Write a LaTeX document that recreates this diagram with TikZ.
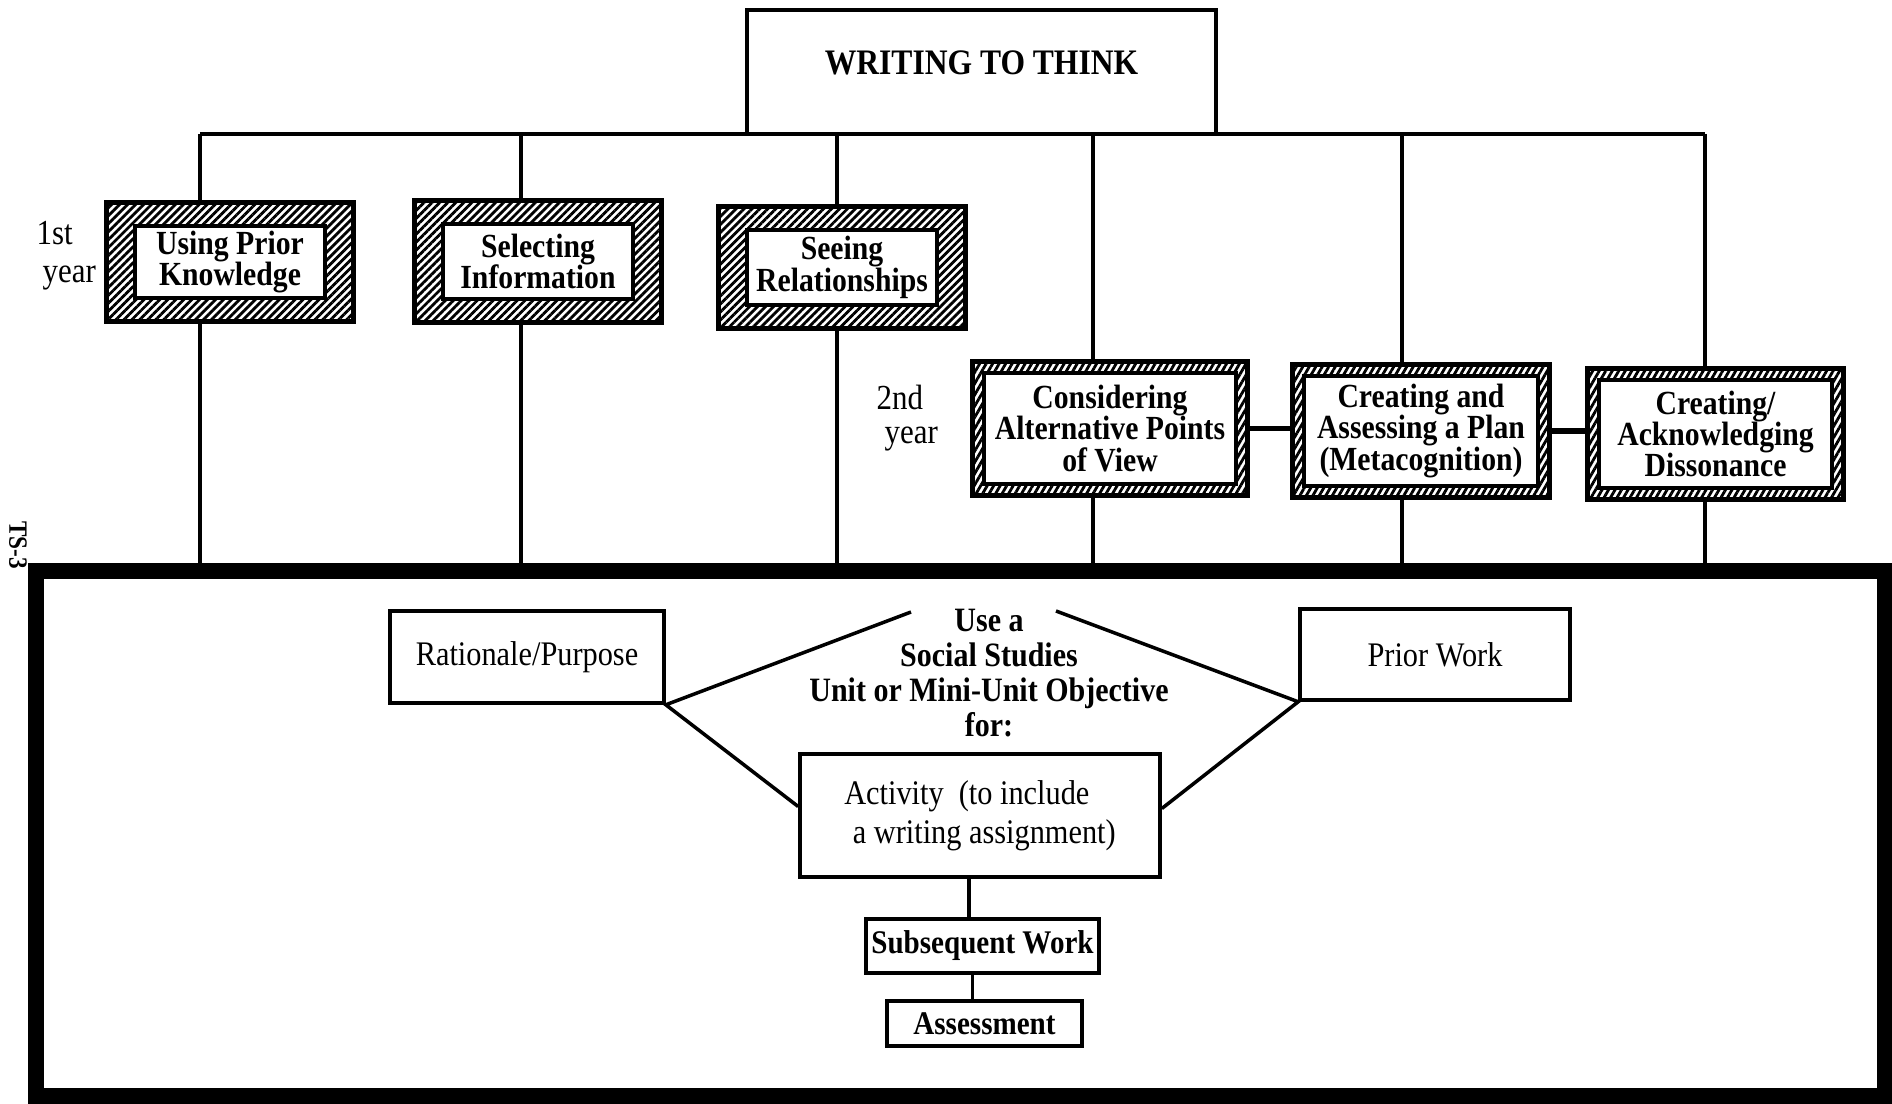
\documentclass[tikz,border=0pt]{standalone}
\usepackage{fontspec}
\setmainfont[FakeStretch=0.88]{Liberation Serif}
\usetikzlibrary{patterns.meta,fit,backgrounds}

\tikzset{
  conn/.style={line width=1pt},
  thickconn/.style={line width=1.5pt},
  stage/.style={draw, line width=1pt, fill=white, align=center, inner sep=0pt,
    font=\bfseries\fontsize{9.6}{8.9}\selectfont},
  hatchA/.style={draw, line width=1.4pt, inner xsep=0.27cm, inner ysep=0.22cm,
    pattern={Lines[angle=45,distance=1.6pt,line width=0.8pt]}},
  hatchB/.style={draw, line width=1.4pt, inner sep=0.1cm,
    pattern={Lines[angle=60,distance=1.6pt,line width=0.8pt]}},
  plainbox/.style={draw, line width=1pt, inner sep=0pt, font=\fontsize{9.8}{11}\selectfont},
  boldbox/.style={plainbox, font=\bfseries\fontsize{9.4}{11}\selectfont},
  yearlbl/.style={anchor=base west, inner sep=0pt, font=\fontsize{10}{12}\selectfont},
}

\begin{document}
\begin{tikzpicture}[x=0.01cm, y=-0.01cm]
  \useasboundingbox (0,0) rectangle (1892,1104);

  \node[draw, line width=1pt, anchor=base, minimum width=4.69cm, inner xsep=0pt, inner ysep=0pt,
    text height=0.65cm, text depth=0.59cm, font=\bfseries\fontsize{10.2}{12}\selectfont]
    (wtt) at (981.5,75) {WRITING TO THINK};

  \node[stage, minimum width=1.90cm, minimum height=0.72cm] (upk) at (230,262) {Using Prior\\Knowledge};
  \node[stage, minimum width=1.90cm, minimum height=0.75cm] (sel) at (538,261.5) {Selecting\\Information};
  \node[stage, minimum width=1.90cm, minimum height=0.75cm] (rel) at (842,267.5) {Seeing\\Relationships};
  \node[stage, minimum width=2.52cm, minimum height=1.11cm] (alt) at (1110,428.5) {Considering\\Alternative Points\\of View};
  \node[stage, minimum width=2.34cm, minimum height=1.10cm] (plan) at (1421,431) {Creating and\\Assessing a Plan\\(Metacognition)};
  \node[stage, minimum width=2.33cm, minimum height=1.08cm] (dis) at (1715.5,434) {Creating/\\Acknowledging\\Dissonance};

  \begin{scope}[on background layer]
    \foreach \n in {upk,sel,rel}
      \node[hatchA, fit=(\n)] (f\n) {};
    \foreach \n in {alt,plan,dis}
      \node[hatchB, fit=(\n)] (f\n) {};
  \end{scope}

  \node[yearlbl] (y1a) at (36,245) {1st};
  \node[yearlbl] (y1b) at (42,283) {year};
  \node[yearlbl] (y2a) at (876,410) {2nd};
  \node[yearlbl] (y2b) at (884,444) {year};
  \node[rotate=-90, inner sep=0pt, font=\bfseries\fontsize{7.5}{9}\selectfont] (ts) at (18,545) {TS-3};

  \node[draw, line width=0.16cm, inner sep=0pt, minimum width=18.47cm, minimum height=5.25cm]
    (unit) at (960.5,833.5) {};

  \coordinate (b1) at (200,134);
  \coordinate (b2) at (521,134);
  \coordinate (b3) at (837,134);
  \coordinate (b4) at (1093,134);
  \coordinate (b5) at (1402,134);
  \coordinate (b6) at (1705,134);
  \draw[conn] (b1) -- (b6);
  \foreach \b/\n in {b1/upk,b2/sel,b3/rel,b4/alt,b5/plan,b6/dis}
    \draw[conn] (\b) -- (\b |- f\n.north) (\b |- f\n.south) -- (\b |- unit.north);
  \draw[thickconn] (falt.east) -- (falt.east -| fplan.west);
  \draw[thickconn] (fplan.east) -- (fplan.east -| fdis.west);

  \node[plainbox, minimum width=2.74cm, minimum height=0.92cm] (rat) at (527,657) {Rationale/Purpose};
  \node[plainbox, minimum width=2.70cm, minimum height=0.91cm] (prior) at (1435,654.5) {Prior Work};
  \node[align=center, inner sep=0pt, font=\bfseries\fontsize{9.7}{9.9}\selectfont]
    (obj) at (989,673) {Use a\\Social Studies\\Unit or Mini-Unit Objective\\for:};
  \node[plainbox, align=left, minimum width=3.60cm, minimum height=1.23cm]
    (act) at (980,815.5) {Activity~~(to include\\\hspace{0.25em}a writing assignment)};
  \node[boldbox, minimum width=2.33cm, minimum height=0.54cm] (sub) at (982.5,946) {Subsequent Work};
  \node[boldbox, minimum width=1.95cm, minimum height=0.45cm] (ass) at (984.5,1023.5) {Assessment};

  \coordinate (objL) at (911,612);
  \coordinate (objR) at (1056,611);
  \coordinate (actdrop) at ([xshift=-0.11cm]act.south);
  \coordinate (subdrop) at ([xshift=-0.1cm]sub.south);
  \draw[conn] (objL) -- (rat.south east) -- ([yshift=0.09cm]act.west);
  \draw[conn] (objR) -- (prior.south west) -- ([yshift=0.07cm]act.east);
  \draw[conn] (actdrop) -- (actdrop |- sub.north);
  \draw[conn] (subdrop) -- (subdrop |- ass.north);
\end{tikzpicture}
\end{document}
